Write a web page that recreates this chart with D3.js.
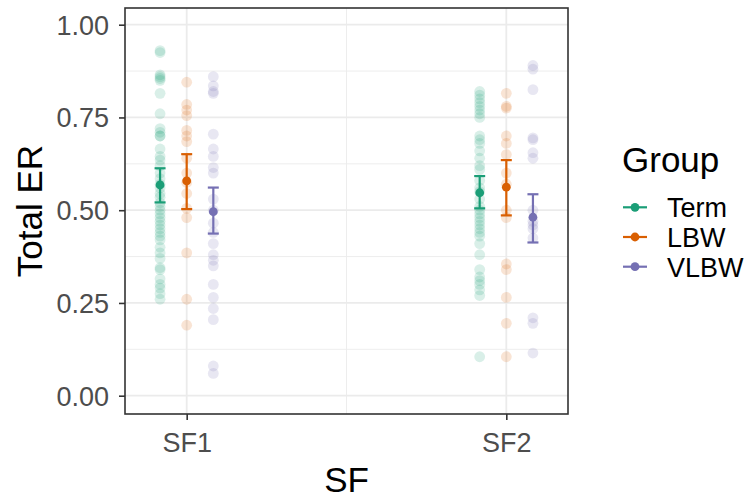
<!DOCTYPE html>
<html>
<head>
<meta charset="utf-8">
<script src="https://cdn.jsdelivr.net/npm/d3@7"></script>
<style>
  html, body { margin: 0; padding: 0; background: #fff; }
  svg { display: block; font-family: "Liberation Sans", Arial, sans-serif; }
</style>
</head>
<body>
<svg id="chart" width="749" height="498"></svg>
<script>
// ---------------- data ----------------
const categories = ["SF1", "SF2"];
const groups = ["Term", "LBW", "VLBW"];
const colors = ["#1B9E77", "#D95F02", "#7570B3"];
const yTicks = [0, 0.25, 0.5, 0.75, 1];
const yTickLabels = ["0.00", "0.25", "0.50", "0.75", "1.00"];

const termSF1 = [0.93, 0.925, 0.865, 0.86, 0.855, 0.85, 0.815, 0.76, 0.72, 0.71, 0.70, 0.70, 0.665, 0.645, 0.635, 0.62, 0.60, 0.585, 0.57, 0.56, 0.545, 0.535, 0.52, 0.51, 0.50, 0.49, 0.48, 0.47, 0.46, 0.45, 0.44, 0.43, 0.42, 0.40, 0.385, 0.37, 0.345, 0.34, 0.315, 0.30, 0.29, 0.275, 0.26];
const lbwSF1 = [0.845, 0.785, 0.77, 0.755, 0.715, 0.70, 0.685, 0.64, 0.60, 0.575, 0.545, 0.505, 0.48, 0.385, 0.26, 0.19];
const vlbwSF1 = [0.86, 0.835, 0.82, 0.815, 0.705, 0.665, 0.645, 0.615, 0.60, 0.53, 0.50, 0.465, 0.44, 0.41, 0.38, 0.365, 0.35, 0.30, 0.265, 0.235, 0.205, 0.08, 0.06];
const termSF2 = [0.82, 0.81, 0.80, 0.79, 0.78, 0.77, 0.76, 0.75, 0.70, 0.69, 0.68, 0.66, 0.64, 0.62, 0.61, 0.58, 0.56, 0.55, 0.53, 0.51, 0.50, 0.49, 0.48, 0.47, 0.46, 0.45, 0.44, 0.43, 0.41, 0.38, 0.34, 0.32, 0.31, 0.30, 0.285, 0.27, 0.105];
const lbwSF2 = [0.815, 0.78, 0.775, 0.70, 0.68, 0.65, 0.60, 0.57, 0.50, 0.48, 0.355, 0.34, 0.265, 0.195, 0.105];
const vlbwSF2 = [0.89, 0.88, 0.825, 0.695, 0.69, 0.655, 0.64, 0.50, 0.47, 0.46, 0.45, 0.425, 0.21, 0.195, 0.115];

// summary (mean with error bars), order: Term, LBW, VLBW
const meanSF1  = [0.568, 0.579, 0.496];
const lowerSF1 = [0.521, 0.503, 0.437];
const upperSF1 = [0.613, 0.651, 0.561];
const meanSF2  = [0.547, 0.562, 0.481];
const lowerSF2 = [0.505, 0.486, 0.413];
const upperSF2 = [0.592, 0.635, 0.543];

// ---------------- build tables ----------------
const rawByCat = {
  SF1: [termSF1, lbwSF1, vlbwSF1],
  SF2: [termSF2, lbwSF2, vlbwSF2]
};
const sumByCat = {
  SF1: { mean: meanSF1, lower: lowerSF1, upper: upperSF1 },
  SF2: { mean: meanSF2, lower: lowerSF2, upper: upperSF2 }
};
const points = [];
const summary = [];
categories.forEach(c => {
  groups.forEach((g, gi) => {
    rawByCat[c][gi].forEach(v => points.push({ cat: c, group: g, value: v }));
    summary.push({ cat: c, group: g, mean: sumByCat[c].mean[gi], lower: sumByCat[c].lower[gi], upper: sumByCat[c].upper[gi] });
  });
});

// ---------------- layout ----------------
const panel = { left: 125, right: 568, top: 8, bottom: 414 };
const svg = d3.select("#chart");

const x = d3.scalePoint().domain(categories).range([panel.left, panel.right]).padding(0.193);
const dodge = d3.scalePoint().domain(groups).range([-x.step() * 0.0833, x.step() * 0.0833]);
const y = d3.scaleLinear().domain([0, 1]).range([395.7, 24.7]);
const color = d3.scaleOrdinal().domain(groups).range(colors);

const TEXT = 27, TITLE = 35;

// panel background
svg.append("rect").attr("x", panel.left).attr("y", panel.top)
  .attr("width", panel.right - panel.left).attr("height", panel.bottom - panel.top)
  .attr("fill", "#fff");

// grid
const grid = svg.append("g");
const minorY = d3.range(0, 4).map(i => yTicks[i] + 0.125);
grid.selectAll("line.minor-y").data(minorY).join("line")
  .attr("x1", panel.left).attr("x2", panel.right)
  .attr("y1", d => y(d)).attr("y2", d => y(d))
  .attr("stroke", "#EBEBEB").attr("stroke-width", 0.9);
grid.append("line")
  .attr("x1", (x("SF1") + x("SF2")) / 2).attr("x2", (x("SF1") + x("SF2")) / 2)
  .attr("y1", panel.top).attr("y2", panel.bottom)
  .attr("stroke", "#EBEBEB").attr("stroke-width", 0.9);
grid.selectAll("line.major-y").data(yTicks).join("line")
  .attr("x1", panel.left).attr("x2", panel.right)
  .attr("y1", d => y(d)).attr("y2", d => y(d))
  .attr("stroke", "#EBEBEB").attr("stroke-width", 1.8);
grid.selectAll("line.major-x").data(categories).join("line")
  .attr("x1", d => x(d)).attr("x2", d => x(d))
  .attr("y1", panel.top).attr("y2", panel.bottom)
  .attr("stroke", "#EBEBEB").attr("stroke-width", 1.8);

// raw points
svg.append("g").selectAll("circle").data(points).join("circle")
  .attr("cx", d => x(d.cat) + dodge(d.group))
  .attr("cy", d => y(d.value))
  .attr("r", 5.4)
  .attr("fill", d => color(d.group))
  .attr("fill-opacity", 0.17);

// error bars
const eb = svg.append("g").selectAll("g").data(summary).join("g")
  .attr("stroke", d => color(d.group)).attr("stroke-width", 2.2);
eb.append("line")
  .attr("x1", d => x(d.cat) + dodge(d.group)).attr("x2", d => x(d.cat) + dodge(d.group))
  .attr("y1", d => y(d.lower)).attr("y2", d => y(d.upper));
eb.append("line")
  .attr("x1", d => x(d.cat) + dodge(d.group) - 5.5).attr("x2", d => x(d.cat) + dodge(d.group) + 5.5)
  .attr("y1", d => y(d.lower)).attr("y2", d => y(d.lower));
eb.append("line")
  .attr("x1", d => x(d.cat) + dodge(d.group) - 5.5).attr("x2", d => x(d.cat) + dodge(d.group) + 5.5)
  .attr("y1", d => y(d.upper)).attr("y2", d => y(d.upper));
svg.append("g").selectAll("circle").data(summary).join("circle")
  .attr("cx", d => x(d.cat) + dodge(d.group))
  .attr("cy", d => y(d.mean))
  .attr("r", 4.4)
  .attr("fill", d => color(d.group));

// panel border
svg.append("rect").attr("x", panel.left).attr("y", panel.top)
  .attr("width", panel.right - panel.left).attr("height", panel.bottom - panel.top)
  .attr("fill", "none").attr("stroke", "#333333").attr("stroke-width", 1.6);

// y axis
const yAxis = d3.axisLeft(y).tickValues(yTicks).tickSize(6).tickPadding(0)
  .tickFormat((d, i) => yTickLabels[i]);
const yg = svg.append("g").attr("transform", `translate(${panel.left},0)`).call(yAxis);
yg.select(".domain").remove();
yg.selectAll(".tick line").attr("stroke", "#333333").attr("stroke-width", 1.6);
yg.selectAll(".tick text")
  .attr("x", -16).attr("dy", "0.35em")
  .attr("fill", "#4D4D4D").attr("font-size", TEXT)
  .attr("font-family", "Liberation Sans, Arial, sans-serif");

// x axis
const xAxis = d3.axisBottom(x).tickSize(6).tickPadding(0);
const xg = svg.append("g").attr("transform", `translate(0,${panel.bottom})`).call(xAxis);
xg.select(".domain").remove();
xg.selectAll(".tick line").attr("stroke", "#333333").attr("stroke-width", 1.6);
xg.selectAll(".tick text")
  .attr("y", 38).attr("dy", 0)
  .attr("fill", "#4D4D4D").attr("font-size", TEXT)
  .attr("font-family", "Liberation Sans, Arial, sans-serif");

// axis titles
svg.append("text").attr("x", (panel.left + panel.right) / 2).attr("y", 492)
  .attr("text-anchor", "middle").attr("font-size", TITLE).attr("fill", "#000")
  .text("SF");
svg.append("text")
  .attr("transform", `translate(42,${(panel.top + panel.bottom) / 2}) rotate(-90)`)
  .attr("text-anchor", "middle").attr("font-size", TITLE).attr("fill", "#000")
  .text("Total ER");

// legend
const legend = svg.append("g");
legend.append("text").attr("x", 622).attr("y", 172)
  .attr("font-size", TITLE).attr("fill", "#000").text("Group");
const legendY = d3.scalePoint().domain(groups).range([207.3, 266.7]);
const items = legend.selectAll("g.item").data(groups).join("g")
  .attr("transform", d => `translate(0,${legendY(d)})`);
items.append("line").attr("x1", 623).attr("x2", 647).attr("y1", 0).attr("y2", 0)
  .attr("stroke", d => color(d)).attr("stroke-width", 2.2);
items.append("circle").attr("cx", 635).attr("cy", 0).attr("r", 4.4)
  .attr("fill", d => color(d));
items.append("text").attr("x", 667).attr("y", 10)
  .attr("font-size", TEXT).attr("fill", "#000").text(d => d);
</script>
</body>
</html>
